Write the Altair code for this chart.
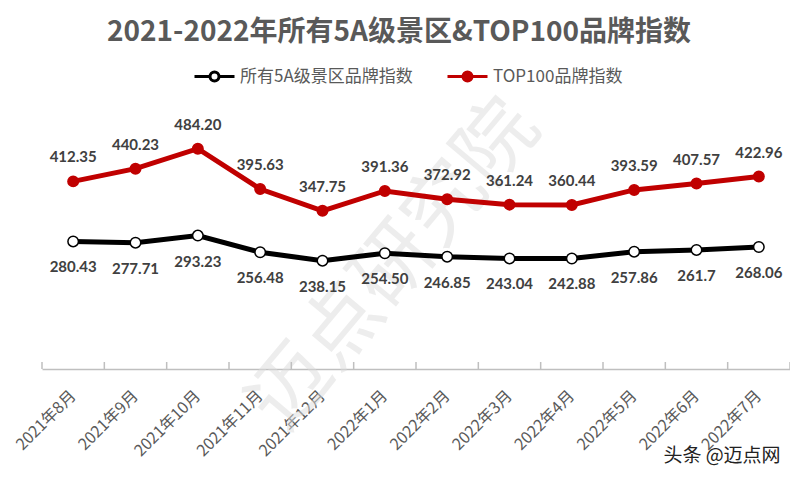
import altair as alt
import pandas as pd

months = ["2021年8月", "2021年9月", "2021年10月", "2021年11月", "2021年12月", "2022年1月",
          "2022年2月", "2022年3月", "2022年4月", "2022年5月", "2022年6月", "2022年7月"]
series_names = ["所有5A级景区品牌指数", "TOP100品牌指数"]
all5a_values = [280.43, 277.71, 293.23, 256.48, 238.15, 254.50, 246.85, 243.04, 242.88, 257.86, 261.7, 268.06]
all5a_labels = ["280.43", "277.71", "293.23", "256.48", "238.15", "254.50", "246.85", "243.04", "242.88", "257.86", "261.7", "268.06"]
top100_values = [412.35, 440.23, 484.20, 395.63, 347.75, 391.36, 372.92, 361.24, 360.44, 393.59, 407.57, 422.96]
top100_labels = ["412.35", "440.23", "484.20", "395.63", "347.75", "391.36", "372.92", "361.24", "360.44", "393.59", "407.57", "422.96"]

rows = []
for m, v, l in zip(months, all5a_values, all5a_labels):
    rows.append({"month": m, "series": series_names[0], "value": v, "label": l})
for m, v, l in zip(months, top100_values, top100_labels):
    rows.append({"month": m, "series": series_names[1], "value": v, "label": l})
df = pd.DataFrame(rows)

W, H = 748, 273
CJK = "Noto Sans CJK SC"
LEG_SYMBOL = "M -2 0 L -0.45 0 M 0.45 0 L 2 0 M -0.45 0 A 0.45 0.45 0 1 1 0.45 0 A 0.45 0.45 0 1 1 -0.45 0 Z"

x_enc = alt.X("month:N", sort=months, bandPosition=0.5,
              scale=alt.Scale(type="band", paddingInner=0, paddingOuter=0),
              axis=alt.Axis(title=None, ticks=False, domainColor="#bfbfbf", domainWidth=1.5,
                            labelAngle=-45, labelAlign="right", labelBaseline="middle",
                            labelPadding=24, labelFontSize=16, labelColor="#595959",
                            labelFont=CJK))
y_enc = alt.Y("value:Q", scale=alt.Scale(domain=[0, 600]), axis=None)

stroke_enc = alt.Stroke("series:N", sort=series_names,
                        scale=alt.Scale(domain=series_names, range=["#000000", "#C00000"]),
                        legend=alt.Legend(title=None))
fill_enc = alt.Fill("series:N", sort=series_names,
                    scale=alt.Scale(domain=series_names, range=["#ffffff", "#C00000"]),
                    legend=alt.Legend(title=None))

base = alt.Chart(df)

watermark = alt.Chart(pd.DataFrame({"t": ["迈点研究院"]})).mark_text(
    font=CJK, fontSize=80, color="#dcdcdc", opacity=0.5, angle=310, align="center", baseline="middle"
).encode(text="t:N", x=alt.value(353), y=alt.value(170))

ticks_start = base.transform_filter(alt.datum.series == series_names[0]).mark_rule(
    color="#bfbfbf", strokeWidth=1.5
).encode(x=alt.X("month:N", sort=months, bandPosition=0), y=alt.value(H), y2=alt.value(H - 7))
ticks_end = base.transform_filter(
    (alt.datum.series == series_names[0]) & (alt.datum.month == months[-1])
).mark_rule(color="#bfbfbf", strokeWidth=1.5).encode(
    x=alt.X("month:N", sort=months, bandPosition=1), y=alt.value(H), y2=alt.value(H - 7))

lines = base.mark_line(strokeWidth=5).encode(x=x_enc, y=y_enc, stroke=stroke_enc, detail="series:N")
points = base.mark_point(filled=True, size=110, strokeWidth=1.5, opacity=1).encode(
    x=alt.X("month:N", sort=months, bandPosition=0.5), y="value:Q", stroke=stroke_enc, fill=fill_enc)

text_top = base.transform_filter(alt.datum.series == series_names[1]).mark_text(
    font="Lato", fontSize=15, fontWeight="bold", color="#404040", dy=-24
).encode(x=alt.X("month:N", sort=months, bandPosition=0.5), y="value:Q", text="label:N")
text_bot = base.transform_filter(alt.datum.series == series_names[0]).mark_text(
    font="Lato", fontSize=15, fontWeight="bold", color="#404040", dy=26
).encode(x=alt.X("month:N", sort=months, bandPosition=0.5), y="value:Q", text="label:N")

credit = alt.Chart(pd.DataFrame({"t": ["头条 @迈点网"]})).mark_text(
    font=CJK, fontSize=19, color="#222222", align="center", baseline="middle"
).encode(text="t:N", x=alt.value(680), y=alt.value(360))

chart = alt.layer(watermark, ticks_start, ticks_end, lines, points, text_top, text_bot, credit).properties(
    width=W, height=H,
    title=alt.TitleParams("2021-2022年所有5A级景区&TOP100品牌指数", font=CJK, fontSize=28,
                          fontWeight="bold", color="#595959", anchor="middle", dx=-17, offset=18),
    autosize=alt.AutoSizeParams(type="none"),
    padding={"left": 34, "top": 88, "right": 0, "bottom": 100},
).resolve_scale(
    stroke="shared", fill="shared"
).configure_view(stroke=None).configure_legend(
    orient="none", legendX=161, legendY=-31, direction="horizontal",
    symbolType=LEG_SYMBOL, symbolSize=400, symbolStrokeWidth=3,
    labelFont=CJK, labelFontSize=17, labelColor="#595959", labelOffset=14, labelLimit=400,
    columnPadding=28, padding=0, symbolOpacity=1
)

chart.save("out.html", embed_options={"renderer": "svg", "actions": False})
